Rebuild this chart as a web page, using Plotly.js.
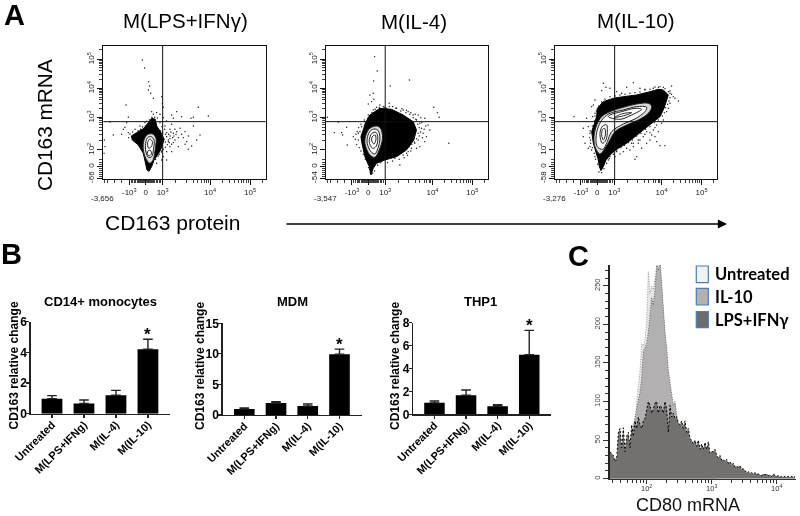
<!DOCTYPE html>
<html><head><meta charset="utf-8"><script src="https://cdn.plot.ly/plotly-3.0.1.min.js"></script>
<style>html,body{margin:0;padding:0;background:#fff}#g{width:800px;height:516px;filter:blur(0.35px)}</style></head>
<body><div id="g"></div><script>
// ---- Panel A data (flow cytometry display channels) ----
const flowTitles=["M(LPS+IFNγ)","M(IL-4)","M(IL-10)"];
const flowLowLabels=["-3,656","-3,547","-3,276"];
const flowYLow=["-66","-54","-58"];
const xTickVals=[78,127,178,320,440];
const xTickText=["-10<sup>3</sup>","0","10<sup>3</sup>","10<sup>4</sup>","10<sup>5</sup>"];
const yTickVals=[3,38,88,185,273,360];
const yTickPow=["0","10<sup>2</sup>","10<sup>3</sup>","10<sup>4</sup>","10<sup>5</sup>"];
const xMinor=[3,14,35,55,84,89,94,98,102,106,110,113,116,119,122,125,128,131,134,137,140,143,146,149,152,155,159,163,168,173,217,248,270,282,295,302,310,315,356,377,392,404,413,421,428,434,476];
const yMinor=[8,14,20,26,32,44,50,60,117,134,146,156,163,170,176,181,211,227,238,246,253,259,264,269,299,314,325,334,341,347,352,356,390];
const gateX=[178,178,179], gateY=173;
const blob1=[[137,24],[145,38],[152,58],[166,78],[175,95],[182,120],[172,142],[160,160],[156,180],[145,183],[135,170],[122,153],[100,140],[84,130],[87,118],[105,103],[120,78],[127,48],[131,28]];
const blob2=[[135,13],[142,33],[152,48],[177,58],[212,68],[242,88],[264,118],[272,148],[262,173],[232,193],[197,210],[162,213],[132,193],[118,168],[112,148],[105,128],[108,108],[117,68],[130,38]];
const blob3=[[138,26],[145,38],[153,58],[170,78],[190,93],[215,108],[240,128],[265,148],[290,168],[315,188],[327,213],[335,238],[340,253],[325,268],[310,270],[285,263],[245,253],[205,248],[175,243],[145,233],[127,213],[125,188],[117,163],[110,143],[115,108],[123,83],[130,58],[133,38]];
const contours1=[
 [[122,118],[120,88],[130,58],[140,48],[150,60],[156,93],[158,123],[148,136],[132,134]],
 [[128,113],[127,88],[135,66],[145,68],[151,93],[152,118],[143,128],[134,126]],
 [[133,110],[136,93],[144,98],[147,113],[140,121]],
 [[132,78],[137,70],[144,76],[142,86],[135,86]]];
const contours2=[
 [[117,108],[132,73],[147,66],[160,88],[170,123],[164,153],[152,160],[132,153],[120,133]],
 [[124,108],[135,83],[147,76],[156,93],[162,123],[157,146],[147,151],[134,146],[125,128]],
 [[130,113],[140,93],[150,98],[156,123],[150,141],[138,138]],
 [[137,118],[144,106],[150,118],[148,133],[141,130]]];
const contours3=[
 [[120,98],[135,76],[150,93],[165,118],[180,143],[215,163],[250,178],[280,198],[290,218],[280,228],[245,226],[205,216],[165,203],[140,188],[125,163],[117,128]],
 [[127,98],[143,90],[157,113],[170,143],[205,166],[240,181],[270,203],[275,216],[245,218],[205,208],[165,198],[145,183],[130,158],[123,123]],
 [[135,138],[142,108],[153,118],[157,148],[155,163],[143,160]],
 [[160,188],[195,180],[230,193],[260,210],[240,213],[200,203],[165,193]],
 [[140,133],[145,118],[151,133],[149,153],[143,150]],
 [[180,186],[215,193],[230,200],[200,196]]];
const dots1=[[117,358],[124,334],[136,293],[139,280],[135,268],[142,258],[150,243],[68,223],[175,248],[177,228],[145,203],[180,216],[285,216],[220,203],[205,193],[315,190],[270,186],[263,183],[210,183],[235,188],[75,186],[20,172],[70,170],[65,156],[30,133],[3,118],[5,98],[2,78],[270,160],[290,133],[280,118],[265,100],[250,113],[230,153],[245,143],[220,143],[210,138],[225,98],[205,83],[200,98],[190,58],[195,113],[215,118],[190,83],[180,68],[175,58],[160,48],[200,150],[205,165],[190,175],[180,185],[170,195],[160,200],[150,195],[125,170],[110,160],[95,150],[75,140],[60,150],[55,135],[240,125],[235,135],[215,150],[255,130],[185,160],[200,130],[210,110],[175,85],[165,70],[255,90],[245,105],[225,125],
 [165,150],[172,145],[178,140],[186,135],[190,128],[195,118],[198,110],[192,104],[186,96],[180,90],[174,82],[168,75],[160,68],[157,60],[150,52],[76,125],[80,136],[88,142],[92,122],[96,116],[100,110],[104,146],[112,150],[118,157],[126,160],[130,174],[138,178],[146,186],[154,186],[162,184],[170,170],[176,158],[184,150],[182,120],[176,112],[186,112],[200,122],[196,135],[203,142],[208,125],[212,130],[218,135],[190,140],[205,105],[175,100]];
const dots2=[[146,368],[154,325],[143,295],[251,298],[193,280],[142,258],[132,253],[144,240],[137,233],[127,226],[162,223],[190,228],[324,216],[335,200],[340,186],[4,186],[37,172],[62,156],[25,140],[47,140],[50,133],[64,103],[82,128],[94,143],[369,108],[307,163],[312,148],[302,128],[297,113],[282,98],[272,93],[257,93],[247,83],[222,43],[207,63],[232,73],[287,153],[292,138],[277,118],[282,168],[297,183],[277,193],[262,193],[247,203],[232,208],[212,213],[182,213],[272,178],[277,138],[267,108],[242,78],[102,143],[97,138],[107,158],[117,173],[127,193],[142,208],[152,216],[172,218],[97,118],
 [250,98],[258,105],[266,112],[272,122],[280,130],[284,142],[280,155],[276,165],[270,180],[262,185],[252,195],[240,200],[225,205],[210,213],[200,218],[190,218],[175,216],[160,216],[148,210],[138,200],[125,183],[115,178],[105,165],[98,155],[90,135],[88,120],[92,104],[100,95],[105,85],[112,75],[118,60],[125,50],[128,35],[133,20],[140,18],[146,25],[155,42],[165,50],[185,50],[200,55],[220,60],[235,65],[245,72],[255,85],[290,125],[295,150],[288,170],[300,160],[285,185],[268,195],[255,200],[242,207],[228,212]];
const dots3=[[145,288],[165,273],[235,290],[200,258],[215,276],[185,263],[140,266],[153,276],[120,238],[115,223],[110,218],[255,273],[270,270],[295,273],[310,276],[350,280],[355,248],[370,235],[360,243],[345,228],[340,213],[335,203],[57,188],[95,183],[100,158],[85,153],[85,128],[90,108],[105,98],[100,93],[110,88],[120,68],[330,101],[315,101],[305,113],[310,143],[295,148],[300,128],[285,118],[275,108],[260,93],[245,68],[240,60],[225,88],[215,93],[205,83],[195,76],[180,68],[165,68],[160,58],[265,128],[275,143],[290,133],[250,108],[235,98],[325,178],[320,168],[330,258],[345,258],[325,276],[340,263],[305,163],[255,118],[230,108],[185,83],[105,138],[107,118],[113,188],[120,198],
 [150,240],[165,248],[180,250],[195,253],[210,255],[225,258],[240,260],[255,262],[270,268],[285,270],[300,277],[315,278],[330,272],[345,265],[350,255],[345,245],[342,235],[338,225],[332,215],[328,200],[322,190],[310,178],[298,170],[285,158],[272,150],[258,138],[245,130],[232,118],[220,110],[208,102],[198,95],[185,85],[175,75],[163,62],[155,48],[147,32],[140,20],[132,22],[128,45],[122,60],[118,78],[112,95],[107,108],[104,125],[106,145],[112,160],[118,175],[120,190],[124,205],[132,220],[140,232],[300,155],[285,140],[270,135],[250,118],[235,108]];

// ---- Panel B data ----
const barCats=["Untreated","M(LPS+IFNg)","M(IL-4)","M(IL-10)"];
const barTitles=["CD14+ monocytes","MDM","THP1"];
const monoVals=[0.98,0.67,1.2,4.2];   const monoErr=[0.2,0.22,0.32,0.66];
const mdmVals=[0.98,1.97,1.47,9.95];  const mdmErr=[0.18,0.22,0.32,0.82];
const thpVals=[1.0,1.66,0.7,5.2];     const thpErr=[0.16,0.46,0.14,2.13];
const barMax=[6,15,8], barDtick=[2,5,2];

// ---- Panel C data (log10 CD80 channel, evenly spaced bins) ----
const histStart=1.436, histStep=0.02564;
const histUntreated=[18,16,15,18,20,22,25,24,28,30,33,36,42,48,55,62,100,118,140,175,172,180,205,268,240,250,245,258,270,262,278,245,208,182,158,130,112,70,42,30,22,18,15,12,10,8,6,5,4,3,2,2,1];
const histIL10=[20,22,18,25,28,30,32,28,35,38,40,45,50,58,68,78,90,100,112,130,165,170,175,190,215,235,225,245,280,270,285,250,215,190,170,140,125,110,95,100,85,70,50,42,35,30,28,24,22,20,17,15,13,11,10,8,7,6,5,4,4,3,2,2,1];
const histLPS=[35,33,30,22,25,60,65,40,66,35,55,60,40,70,55,75,65,80,70,65,75,78,88,100,95,85,90,98,100,85,95,92,85,100,90,60,95,80,85,78,80,72,70,75,65,75,60,65,52,50,45,50,42,50,38,45,38,47,38,48,33,35,35,38,30,27,30,24,25,22,25,20,22,18,20,15,16,15,17,12,13,10,8,9,7,8,6,8,6,6,5,4,6,5,6,4,5,3,6,4,3,4,2,3,2,3,2,3,2,3,2,3];
const histLegend=["Untreated","IL-10","LPS+IFNγ"];
const histFills=["#e6e6e6","#b2b0b0","#737070"];

// ---- layout helpers ----
const W=800,H=516,ARIAL='"Liberation Sans",Arial,sans-serif';
const dx=(a,b)=>[a/W,b/W], dy=(t,b)=>[1-b/H,1-t/H];
const traces=[], annotations=[], shapes=[], layout={};
function ann(text,x,y,size,o){annotations.push(Object.assign({text,x:x/W,y:1-y/H,xref:'paper',yref:'paper',showarrow:false,font:{family:ARIAL,size,color:'#000'},xanchor:'center',yanchor:'middle'},o||{}));}
function closed(p){return p.concat([p[0]]);}

// Panel A
const flowBoxes=[[103.3,265.7],[326,488],[555,717.3]];
[[blob1,contours1,dots1],[blob2,contours2,dots2],[blob3,contours3,dots3]].forEach((set,i)=>{
  const n=i+1, xn='x'+n, yn='y'+n;
  const [blob,conts,dots]=set;
  traces.push({type:'scatter',mode:'lines',xaxis:xn,yaxis:yn,x:closed(blob).map(p=>p[0]),y:closed(blob).map(p=>p[1]),fill:'toself',fillcolor:'#000',line:{color:'#000',width:1,shape:'linear'},hoverinfo:'skip'});
  traces.push({type:'scatter',mode:'markers',xaxis:xn,yaxis:yn,x:dots.map(p=>p[0]),y:dots.map(p=>p[1]),marker:{color:'#111',size:1.4},hoverinfo:'skip'});
  conts.forEach(c=>traces.push({type:'scatter',mode:'lines',xaxis:xn,yaxis:yn,x:closed(c).map(p=>p[0]),y:closed(c).map(p=>p[1]),fill:'toself',fillcolor:'rgba(255,255,255,0.85)',line:{color:'#222',width:1,shape:'spline'},hoverinfo:'skip'}));
  const axBase={showgrid:false,zeroline:false,showline:true,mirror:true,linecolor:'#111',linewidth:1,ticks:'outside',tickcolor:'#111',ticklen:5,tickwidth:1,tickfont:{family:ARIAL,size:8,color:'#222'},tickmode:'array'};
  layout['xaxis'+n]=Object.assign({},axBase,{domain:dx(flowBoxes[i][0],flowBoxes[i][1]),anchor:yn,range:[0,487],tickvals:xTickVals,ticktext:xTickText,tickangle:0,minor:{tickmode:'array',tickvals:xMinor,ticks:'outside',ticklen:3,tickcolor:'#111',tickwidth:0.8,showgrid:false}});
  layout['yaxis'+n]=Object.assign({},axBase,{domain:dy(46,179.3),anchor:xn,range:[0,400],tickvals:yTickVals,ticktext:[flowYLow[i]].concat(yTickPow),tickangle:-90,minor:{tickmode:'array',tickvals:yMinor,ticks:'outside',ticklen:3,tickcolor:'#111',tickwidth:0.8,showgrid:false}});
  shapes.push({type:'line',xref:xn,yref:yn+' domain',x0:gateX[i],x1:gateX[i],y0:0,y1:1,line:{color:'#111',width:1}});
  shapes.push({type:'line',xref:xn+' domain',yref:yn,x0:0,x1:1,y0:gateY,y1:gateY,line:{color:'#111',width:1}});
  ann(flowLowLabels[i],flowBoxes[i][0]-1,198,8,{font:{family:ARIAL,size:8,color:'#222'}});
});
ann(flowTitles[0],185,21,20.5);
ann(flowTitles[1],414,22,20.5);
ann(flowTitles[2],635,21,20.5);
ann("CD163 mRNA",44,125,20.8,{textangle:-90});
ann("CD163 protein",172,222,21);
annotations.push({x:727/W,y:1-224/H,xref:'paper',yref:'paper',ax:-442,ay:0,axref:'pixel',ayref:'pixel',showarrow:true,arrowhead:2,arrowsize:1.3,arrowwidth:1.4,arrowcolor:'#000',text:''});
ann("A",14,15,29,{font:{family:ARIAL,size:29,color:'#000',weight:700}});
ann("B",11,254,29,{font:{family:ARIAL,size:29,color:'#000',weight:700}});
ann("C",578,256,29,{font:{family:ARIAL,size:29,color:'#000',weight:700}});

// Panel B
const barBoxes=[[30.7,170,321.7,413.7,-0.666,3.69,100,301,13.5],[222.7,361.7,323.3,415,-0.68,3.7,292,301,200],[413.3,550.7,322.7,414.3,-0.67,3.68,481,301.5,395]];
[[monoVals,monoErr],[mdmVals,mdmErr],[thpVals,thpErr]].forEach((s,i)=>{
  const n=i+4,b=barBoxes[i],xn='x'+n,yn='y'+n;
  traces.push({type:'bar',xaxis:xn,yaxis:yn,x:[0,1,2,3],y:s[0],width:0.65,marker:{color:'#000'},error_y:{type:'data',symmetric:false,array:s[1],arrayminus:[0,0,0,0],color:'#222',thickness:1.4,width:4.8},hoverinfo:'skip'});
  const axB={showgrid:false,zeroline:false,showline:true,linecolor:'#222',linewidth:1.4,ticks:'outside',tickcolor:'#222',tickwidth:1.2,ticklen:3};
  layout['xaxis'+n]=Object.assign({},axB,{domain:dx(b[0],b[1]),anchor:yn,range:[b[4],b[5]],tickmode:'array',tickvals:[0,1,2,3],ticktext:barCats,tickangle:-45,ticklabelstandoff:-4,tickfont:{family:ARIAL,size:11,color:'#000',weight:700}});
  layout['yaxis'+n]=Object.assign({},axB,{domain:dy(b[2],b[3]),anchor:xn,range:[0,barMax[i]],dtick:barDtick[i],ticklabelstandoff:-3,tickfont:{family:ARIAL,size:12,color:'#000',weight:700}});
  ann('CD163 relative change',b[8],366,12,{textangle:-90,font:{family:ARIAL,size:12,color:'#000',weight:700}});
  ann(barTitles[i],b[6],b[7],13,{font:{family:ARIAL,size:13,color:'#000',weight:700}});
  annotations.push({text:'*',xref:xn,yref:yn,x:3,y:s[0][3]+s[1][3],yanchor:'bottom',showarrow:false,yshift:-7,font:{family:ARIAL,size:17,color:'#000',weight:700}});
});

// Panel C
[[histUntreated,'#8a8a8a'],[histIL10,'#4a4a4a'],[histLPS,'#000']].forEach((s,i)=>{
  traces.push({type:'scatter',mode:'lines',xaxis:'x7',yaxis:'y7',x0:histStart,dx:histStep,y:s[0],fill:'tozeroy',fillcolor:histFills[i],line:{color:s[1],width:i==2?1:0.8,dash:i==2?'2px,2px':'1px,1.5px'},hoverinfo:'skip'});
});
layout.xaxis7={domain:dx(610,796),anchor:'y7',range:[1.4359,4.297],showgrid:false,zeroline:false,showline:true,linecolor:'#333',linewidth:1,ticks:'outside',ticklen:4,ticklabelstandoff:-2,tickcolor:'#333',tickmode:'array',tickvals:[2,3,4],ticktext:['10<sup>2</sup>','10<sup>3</sup>','10<sup>4</sup>'],tickfont:{family:ARIAL,size:7.5,color:'#333'},
  minor:{tickmode:'array',tickvals:[1.48,1.6,1.7,1.78,1.85,1.9,1.95,2.3,2.48,2.6,2.7,2.78,2.85,2.9,2.95,3.3,3.48,3.6,3.7,3.78,3.85,3.9,3.95,4.3],ticks:'outside',ticklen:3,tickcolor:'#333',showgrid:false}};
ann('CD80 mRNA',688,505,18,{font:{family:ARIAL,size:18,color:'#111'}});
layout.yaxis7={domain:dy(265,478.7),anchor:'x7',range:[0,277],showgrid:false,zeroline:false,showline:true,linecolor:'#222',linewidth:2,ticks:'outside',ticklen:5,tickcolor:'#333',tickmode:'array',tickvals:[0,50,100,150,200,250],tickangle:-90,tickfont:{family:ARIAL,size:7.5,color:'#444'},minor:{dtick:10,ticks:'outside',ticklen:3,tickcolor:'#333',showgrid:false}};
const swatches=[[266,282.7],[288.3,305],[311.7,327.7]];
swatches.forEach((s,i)=>{
  shapes.push({type:'rect',xref:'paper',yref:'paper',x0:696.3/W,x1:708.3/W,y0:1-s[1]/H,y1:1-s[0]/H,fillcolor:['#f2f2f4','#b3b0b0','#706b6b'][i],line:{color:'#4a7fb5',width:1.2}});
  ann(histLegend[i],713,(s[0]+s[1])/2,16,{xanchor:'left',font:{family:'Lato,"Noto Sans",sans-serif',size:16.5,color:'#000',weight:700}});
});

Object.assign(layout,{width:W,height:H,margin:{l:0,r:0,t:0,b:0},paper_bgcolor:'#fff',plot_bgcolor:'rgba(0,0,0,0)',showlegend:false,barmode:'overlay',annotations,shapes});
Plotly.newPlot('g',traces,layout,{displayModeBar:false,staticPlot:true});
</script></body></html>
